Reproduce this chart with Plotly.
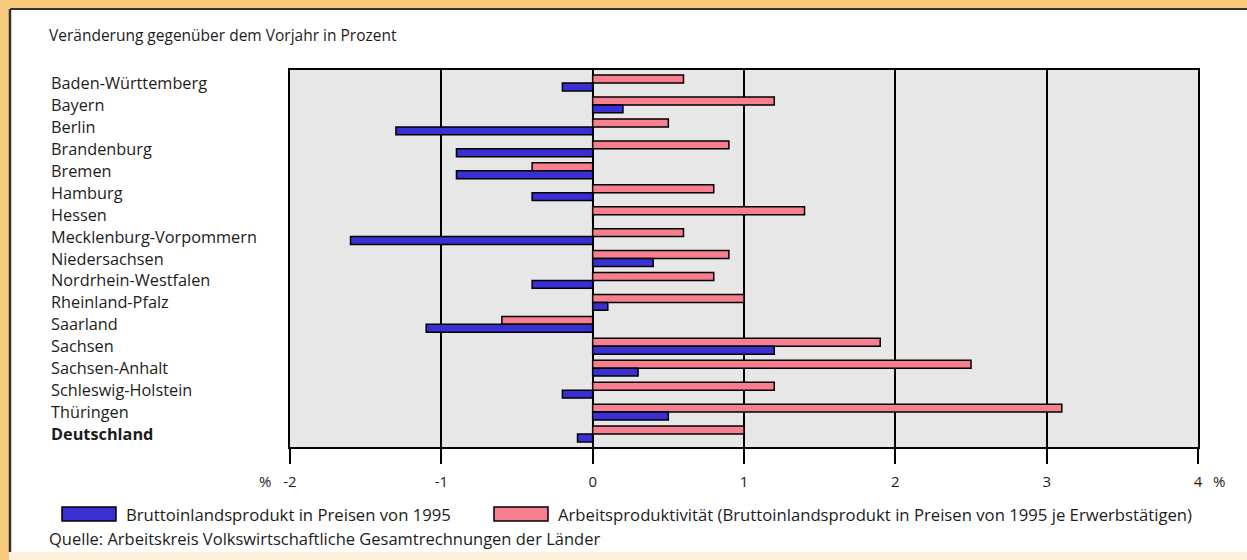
import plotly.graph_objects as go

# Bundesländer, top to bottom
laender = [
    "Baden-Württemberg", "Bayern", "Berlin", "Brandenburg", "Bremen", "Hamburg",
    "Hessen", "Mecklenburg-Vorpommern", "Niedersachsen", "Nordrhein-Westfalen",
    "Rheinland-Pfalz", "Saarland", "Sachsen", "Sachsen-Anhalt",
    "Schleswig-Holstein", "Thüringen", "Deutschland",
]

# Veränderung gegenüber dem Vorjahr in Prozent
bip = [-0.2, 0.2, -1.3, -0.9, -0.9, -0.4, 0.0, -1.6, 0.4, -0.4,
       0.1, -1.1, 1.2, 0.3, -0.2, 0.5, -0.1]
produktivitaet = [0.6, 1.2, 0.5, 0.9, -0.4, 0.8, 1.4, 0.6, 0.9, 0.8,
                  1.0, -0.6, 1.9, 2.5, 1.2, 3.1, 1.0]

x_ticks = [-2, -1, 0, 1, 2, 3, 4]
x_ticklabels = ["-2", "-1", "0", "1", "2", "3", "4"]

name_bip = "Bruttoinlandsprodukt in Preisen von 1995"
name_prod = "Arbeitsproduktivität (Bruttoinlandsprodukt in Preisen von 1995 je Erwerbstätigen)"

BLUE = "#3a2fd2"
PINK = "#f77f90"
TEXT = "#1c1c1c"
FONT = "Open Sans"
ORANGE = "#f7c97a"

W, H = 1247, 560
L, R, T, B = 290, 1198, 70, 447


def px(x):
    return (x - L) / (R - L)


def py(y):
    return (B - y) / (B - T)


fig = go.Figure()
fig.add_trace(go.Bar(
    y=laender, x=produktivitaet, orientation="h", name=name_prod,
    marker=dict(color=PINK, line=dict(color="black", width=1.5)),
))
fig.add_trace(go.Bar(
    y=laender, x=bip, orientation="h", name=name_bip,
    marker=dict(color=BLUE, line=dict(color="black", width=1.5)),
))

annotations = []
# Row labels, left aligned
for name in laender:
    label = f"<b>{name}</b>" if name == "Deutschland" else name
    annotations.append(dict(
        x=px(49), xref="paper", y=name, yref="y", text=label,
        xanchor="left", yanchor="middle", showarrow=False,
        font=dict(family=FONT, size=16.3, color=TEXT),
    ))

# Title
annotations.append(dict(
    x=px(47), xref="paper", y=py(35), yref="paper",
    text="Veränderung gegenüber dem Vorjahr in Prozent",
    xanchor="left", yanchor="middle", showarrow=False,
    font=dict(family=FONT, size=15.5, color=TEXT),
))
# Percent signs beside the outer tick labels
annotations.append(dict(
    x=px(273), xref="paper", y=py(481), yref="paper", text="%",
    xanchor="right", yanchor="middle", showarrow=False,
    font=dict(family=FONT, size=15, color=TEXT),
))
annotations.append(dict(
    x=px(1211), xref="paper", y=py(481), yref="paper", text="%",
    xanchor="left", yanchor="middle", showarrow=False,
    font=dict(family=FONT, size=15, color=TEXT),
))
# Legend
annotations.append(dict(
    x=px(124), xref="paper", y=py(514), yref="paper", text=name_bip,
    xanchor="left", yanchor="middle", showarrow=False,
    font=dict(family=FONT, size=16.7, color=TEXT),
))
annotations.append(dict(
    x=px(556), xref="paper", y=py(514), yref="paper", text=name_prod,
    xanchor="left", yanchor="middle", showarrow=False,
    font=dict(family=FONT, size=16.7, color=TEXT),
))
# Source
annotations.append(dict(
    x=px(47), xref="paper", y=py(538), yref="paper",
    text="Quelle: Arbeitskreis Volkswirtschaftliche Gesamtrechnungen der Länder",
    xanchor="left", yanchor="middle", showarrow=False,
    font=dict(family=FONT, size=16.5, color=TEXT),
))

shapes = [
    # legend swatches
    dict(type="rect", xref="paper", yref="paper",
         x0=px(62), x1=px(116), y0=py(507), y1=py(521),
         fillcolor=BLUE, line=dict(color="black", width=1.5)),
    dict(type="rect", xref="paper", yref="paper",
         x0=px(494), x1=px(548), y0=py(507), y1=py(521),
         fillcolor=PINK, line=dict(color="black", width=1.5)),
    # frame
    dict(type="rect", xref="paper", yref="paper",
         x0=px(0), x1=px(W), y0=py(0), y1=py(8),
         fillcolor=ORANGE, line=dict(width=0)),
    dict(type="rect", xref="paper", yref="paper",
         x0=px(0), x1=px(9), y0=py(0), y1=py(H),
         fillcolor=ORANGE, line=dict(width=0)),
    dict(type="rect", xref="paper", yref="paper",
         x0=px(9), x1=px(W), y0=py(552), y1=py(H),
         fillcolor="#fdf1dc", line=dict(width=0)),
    dict(type="line", xref="paper", yref="paper",
         x0=px(10), x1=px(W), y0=py(9), y1=py(9),
         line=dict(color="#333333", width=2)),
    dict(type="line", xref="paper", yref="paper",
         x0=px(10), x1=px(10), y0=py(9), y1=py(552),
         line=dict(color="#333333", width=2.5)),
]

fig.update_layout(
    width=W, height=H,
    margin=dict(l=L, r=W - R, t=T, b=H - B, pad=0),
    paper_bgcolor="white",
    plot_bgcolor="#e7e7e7",
    barmode="group",
    bargap=0.28,
    bargroupgap=0,
    showlegend=False,
    font=dict(family=FONT, size=15, color=TEXT),
    annotations=annotations,
    shapes=shapes,
)
fig.update_xaxes(
    range=[-2, 4], tickvals=x_ticks, ticktext=x_ticklabels,
    showgrid=True, gridcolor="black", gridwidth=1.5,
    zeroline=True, zerolinecolor="black", zerolinewidth=1.5,
    showline=True, linecolor="black", linewidth=1.5, mirror=True,
    ticks="outside", ticklen=15, tickwidth=1.5, tickcolor="black",
    ticklabelstandoff=5,
    tickfont=dict(family=FONT, size=15, color=TEXT),
)
fig.update_yaxes(
    autorange="reversed", showticklabels=False, showgrid=False,
    showline=True, linecolor="black", linewidth=1.5, mirror=True,
    ticks="",
)

fig.write_html("out.html")
